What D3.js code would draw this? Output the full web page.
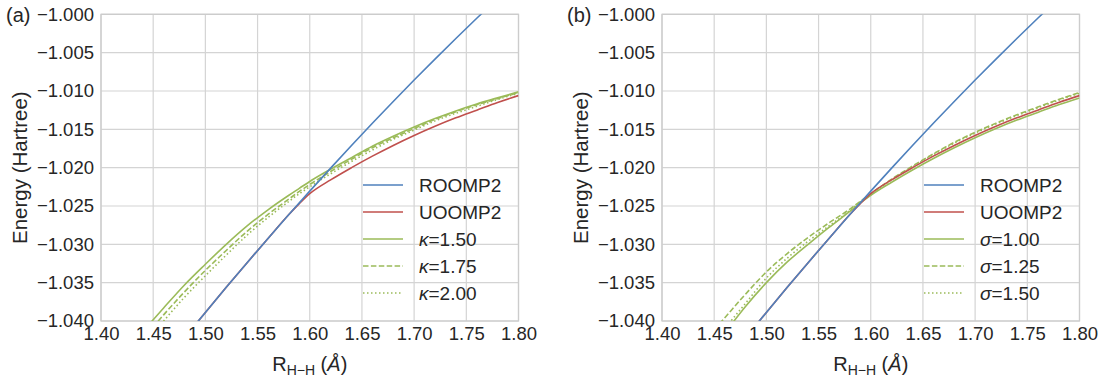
<!DOCTYPE html>
<html>
<head>
<meta charset="utf-8">
<script src="https://cdn.jsdelivr.net/npm/d3@7"></script>
<style>
  html, body { margin: 0; padding: 0; background: #ffffff; }
  svg text { font-family: "Liberation Sans", Arial, Helvetica, sans-serif; fill: #262626; }
</style>
</head>
<body>
<svg id="chart" width="1100" height="377"></svg>
<script>
// H–H bond length grid (Å) shared by every curve
const bondLengths = [1.44, 1.46, 1.48, 1.50, 1.52, 1.54, 1.56, 1.58, 1.59, 1.60,
                     1.62, 1.64, 1.66, 1.68, 1.70, 1.72, 1.74, 1.76, 1.78, 1.80];

// Energies (Hartree)
const roomp2 = [-1.04900, -1.04557, -1.04220, -1.03888, -1.03561, -1.03239, -1.02923, -1.02612, -1.02459, -1.02306,
                -1.02006, -1.01711, -1.01421, -1.01137, -1.00857, -1.00584, -1.00315, -1.00052, -0.99794, -0.99542];
const uoomp2 = [-1.04900, -1.04557, -1.04220, -1.03888, -1.03561, -1.03239, -1.02923, -1.02612, -1.02470, -1.02340,
                -1.02160, -1.02000, -1.01850, -1.01710, -1.01580, -1.01460, -1.01350, -1.01250, -1.01150, -1.01060];

const kappa150 = [-1.0414, -1.0383, -1.0353, -1.0326, -1.0300, -1.0276, -1.0255, -1.0236, -1.0227, -1.0218,
                  -1.0202, -1.0187, -1.0172, -1.0159, -1.0147, -1.0136, -1.0126, -1.0117, -1.0109, -1.0101];
const kappa175 = [-1.0424, -1.0392, -1.0362, -1.0334, -1.0308, -1.0283, -1.0261, -1.0241, -1.0231, -1.0222,
                  -1.0205, -1.0189, -1.0174, -1.0161, -1.0149, -1.0137, -1.0127, -1.0118, -1.0110, -1.0102];
const kappa200 = [-1.0432, -1.0400, -1.0369, -1.0341, -1.0314, -1.0288, -1.0265, -1.0244, -1.0234, -1.0225,
                  -1.0208, -1.0192, -1.0177, -1.0163, -1.0151, -1.0139, -1.0129, -1.0120, -1.0111, -1.0103];

const sigma100 = [-1.0452, -1.0416, -1.0381, -1.0350, -1.0323, -1.0300, -1.0278, -1.0257, -1.0246, -1.0236,
                  -1.0219, -1.0203, -1.0188, -1.0174, -1.0161, -1.0149, -1.0138, -1.0128, -1.0118, -1.0109];
const sigma125 = [-1.0427, -1.0396, -1.0365, -1.0336, -1.0312, -1.0291, -1.0272, -1.0254, -1.0244, -1.0234,
                  -1.0215, -1.0198, -1.0182, -1.0167, -1.0154, -1.0142, -1.0131, -1.0121, -1.0111, -1.0102];
const sigma150 = [-1.0444, -1.0410, -1.0377, -1.0344, -1.0318, -1.0296, -1.0276, -1.0256, -1.0245, -1.0235,
                  -1.0216, -1.0199, -1.0183, -1.0168, -1.0155, -1.0143, -1.0132, -1.0122, -1.0112, -1.0103];

// Axis ticks
const xTicks = [1.40, 1.45, 1.50, 1.55, 1.60, 1.65, 1.70, 1.75, 1.80];
const yTicks = [-1.040, -1.035, -1.030, -1.025, -1.020, -1.015, -1.010, -1.005, -1.000];

// Legend entries for each panel
const panelTags = ["(a)", "(b)"];
const labelsA = ["ROOMP2", "UOOMP2", "κ=1.50", "κ=1.75", "κ=2.00"];
const labelsB = ["ROOMP2", "UOOMP2", "σ=1.00", "σ=1.25", "σ=1.50"];
const seriesA = [roomp2, uoomp2, kappa150, kappa175, kappa200];
const seriesB = [roomp2, uoomp2, sigma100, sigma125, sigma150];

// Line styles, in legend order
const styles = [
  { color: "#4f81bd", dash: null },
  { color: "#c0504d", dash: null },
  { color: "#9bbb59", dash: null },
  { color: "#9bbb59", dash: "5.5,2.4" },
  { color: "#9bbb59", dash: "1.5,2.5" }
];

const svg = d3.select("#chart");
const plotTop = 14.3, plotBottom = 321, plotW = 417.5;
const panels = [
  { left: 101, tag: panelTags[0], labels: labelsA, series: seriesA },
  { left: 662, tag: panelTags[1], labels: labelsB, series: seriesB }
];

panels.forEach((p, pi) => {
  const x = d3.scaleLinear().domain([1.40, 1.80]).range([p.left, p.left + plotW]);
  const y = d3.scaleLinear().domain([-1.040, -1.000]).range([plotBottom, plotTop]);
  const g = svg.append("g");

  // grid
  g.append("g").selectAll("line").data(xTicks).join("line")
    .attr("x1", d => x(d)).attr("x2", d => x(d)).attr("y1", plotTop).attr("y2", plotBottom)
    .attr("stroke", "#d4d4d4").attr("stroke-width", 1.2);
  g.append("g").selectAll("line").data(yTicks).join("line")
    .attr("x1", p.left).attr("x2", p.left + plotW).attr("y1", d => y(d)).attr("y2", d => y(d))
    .attr("stroke", "#d4d4d4").attr("stroke-width", 1.2);

  // axes (labels only)
  const xAxis = d3.axisBottom(x).tickValues(xTicks).tickFormat(d3.format(".2f")).tickSize(0).tickPadding(5.5);
  const yAxis = d3.axisLeft(y).tickValues(yTicks).tickFormat(d3.format(".3f")).tickSize(0).tickPadding(7);
  const gx = g.append("g").attr("transform", `translate(0,${plotBottom})`).call(xAxis);
  const gy = g.append("g").attr("transform", `translate(${p.left},0)`).call(yAxis);
  [gx, gy].forEach(a => {
    a.attr("font-family", null).attr("font-size", null);
    a.select(".domain").remove();
    a.selectAll("text").attr("font-size", 18.5).attr("fill", "#262626");
  });

  // frame
  g.append("rect").attr("x", p.left).attr("y", plotTop).attr("width", plotW).attr("height", plotBottom - plotTop)
    .attr("fill", "none").attr("stroke", "#cccccc").attr("stroke-width", 1.25);

  // curves
  const clipId = "clip" + pi;
  svg.append("defs").append("clipPath").attr("id", clipId)
    .append("rect").attr("x", p.left).attr("y", plotTop).attr("width", plotW).attr("height", plotBottom - plotTop);
  const line = d3.line().x((d, i) => x(bondLengths[i])).y(d => y(d)).curve(d3.curveMonotoneX);
  const curves = g.append("g").attr("clip-path", `url(#${clipId})`);
  // green family first, then UOOMP2, then ROOMP2 on top
  [4, 3, 2, 1, 0].forEach(k => {
    curves.append("path").attr("d", line(p.series[k]))
      .attr("fill", "none").attr("stroke", styles[k].color).attr("stroke-width", 1.6)
      .attr("stroke-dasharray", styles[k].dash);
  });

  // legend
  const lg = g.append("g");
  p.labels.forEach((lab, k) => {
    const cy = 185 + k * 27;
    lg.append("line").attr("x1", p.left + 262).attr("x2", p.left + 302).attr("y1", cy).attr("y2", cy)
      .attr("stroke", styles[k].color).attr("stroke-width", 1.6).attr("stroke-dasharray", styles[k].dash);
    const t = lg.append("text").attr("x", p.left + 318).attr("y", cy + 7).attr("font-size", 19);
    if (k < 2) {
      t.text(lab);
    } else {
      t.append("tspan").attr("font-style", "italic").text(lab.slice(0, 1));
      t.append("tspan").text(lab.slice(1));
    }
  });

  // panel tag
  svg.append("text").attr("x", p.left - 95).attr("y", 22).attr("font-size", 20).text(p.tag);

  // y label
  svg.append("text")
    .attr("transform", `translate(${p.left - 74.5},${(plotTop + plotBottom) / 2}) rotate(-90)`)
    .attr("text-anchor", "middle").attr("font-size", 20.5).text("Energy (Hartree)");

  // x label
  const xl = svg.append("text").attr("x", p.left + plotW / 2).attr("y", 370.5)
    .attr("text-anchor", "middle").attr("font-size", 20);
  xl.append("tspan").text("R");
  xl.append("tspan").attr("font-size", 14).attr("dy", 4.5).text("H\u2212H");
  xl.append("tspan").attr("dy", -4.5).text(" (");
  xl.append("tspan").attr("font-style", "italic").text("Å");
  xl.append("tspan").text(")");
});
</script>
</body>
</html>
